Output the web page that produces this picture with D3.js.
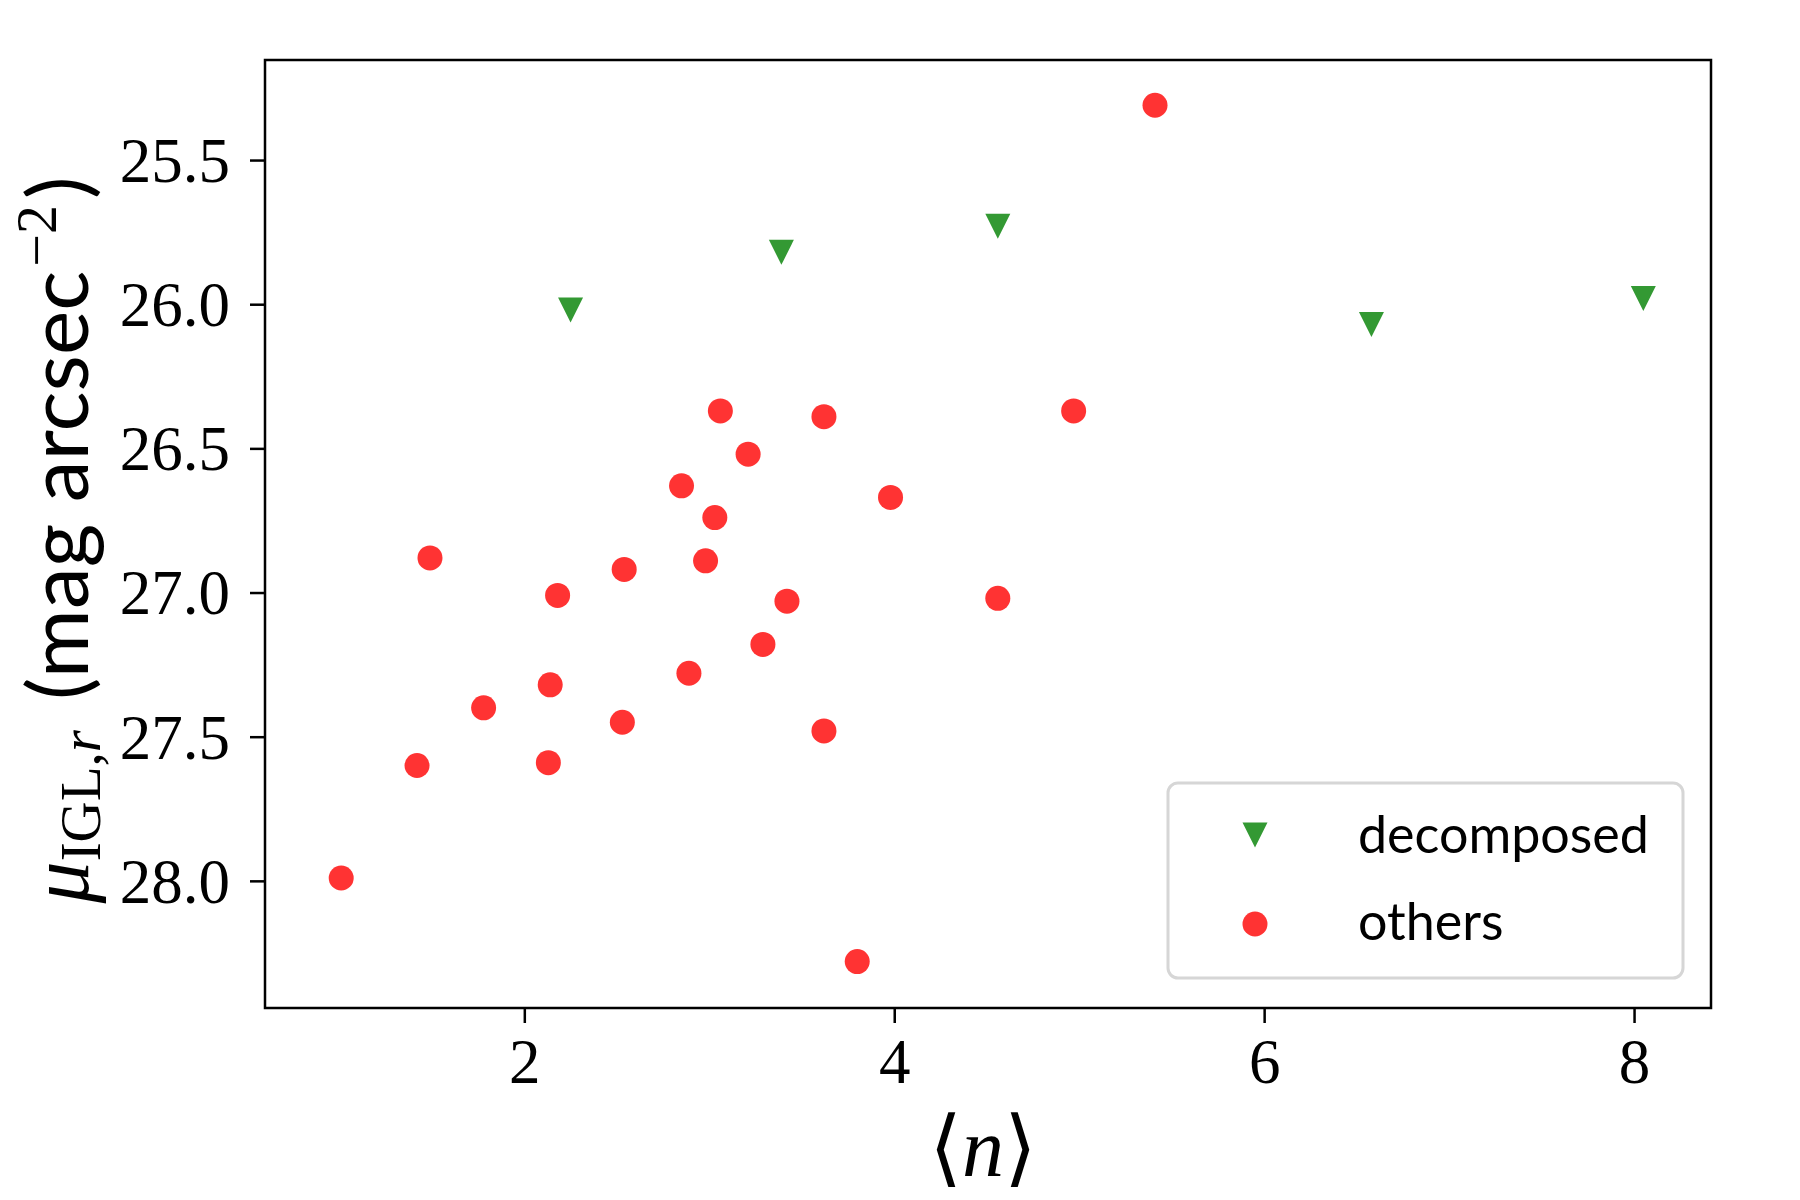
<!DOCTYPE html>
<html>
<meta charset="utf-8">
<style>
  body { margin: 0; background: #fff; }
  svg { width: 1800px; height: 1200px; display: block; }
  .axis path { display: none; }
  .axis line { stroke: #000; stroke-width: 2.5; }
  .axis text { font-family: "Liberation Serif", "DejaVu Serif", serif; font-size: 63px; fill: #000; }
</style>
<body>
  <svg></svg>
</body>

<script src="https://cdn.jsdelivr.net/npm/d3@7"></script>

<script>

  // decomposed clusters (green triangles)
  var decomposedN  = [2.25, 3.39, 4.56, 6.58, 8.05];
  var decomposedMu = [26.02, 25.82, 25.73, 26.07, 25.98];

  // other clusters (red dots)
  var othersN  = [5.41, 3.06, 3.62, 4.97, 3.21, 2.85, 3.98, 3.03, 1.49, 2.54, 2.98, 2.18,
                  3.42, 4.56, 3.29, 2.89, 2.14, 1.78, 2.53, 3.62, 1.42, 2.13, 1.01, 3.80];
  var othersMu = [25.31, 26.37, 26.39, 26.37, 26.52, 26.63, 26.67, 26.74, 26.88, 26.92, 26.89, 27.01,
                  27.03, 27.02, 27.18, 27.28, 27.32, 27.40, 27.45, 27.48, 27.60, 27.59, 27.99, 28.28];

  var xTicks = [2, 4, 6, 8];
  var yTicks = [25.5, 26.0, 26.5, 27.0, 27.5, 28.0];

  var legendLabels = ["decomposed", "others"];

  var margin = {top: 60, right: 89, bottom: 192, left: 265},
    width = 1800 - margin.left - margin.right,
    height = 1200 - margin.top - margin.bottom;

  var svg = d3.select("svg");
  var g = svg.append("g").attr("transform", "translate(" + margin.left + "," + margin.top + ")");

  var xScale = d3.scaleLinear().domain([0.598, 8.416]).range([0, width]);
  var yScale = d3.scaleLinear().domain([25.153, 28.441]).range([0, height]);

  var decomposed = decomposedN.map(function(n, i) { return [n, decomposedMu[i]]; });
  var others = othersN.map(function(n, i) { return [n, othersMu[i]]; });

  var red = "#ff3333", green = "#339933";
  var mSize = 25;

  function triDown(cx, cy, s) {
    var h = s / 2;
    return "M" + (cx - h) + "," + (cy - h) + "L" + (cx + h) + "," + (cy - h) + "L" + cx + "," + (cy + h) + "Z";
  }

  //AXES
  var xAxis = d3.axisBottom(xScale).tickValues(xTicks).tickSize(15).tickPadding(15)
    .tickFormat(d3.format("d"));
  var yAxis = d3.axisLeft(yScale).tickValues(yTicks).tickSize(15).tickPadding(20)
    .tickFormat(d3.format(".1f"));

  g.append("g").attr("class", "x axis")
    .attr("transform", "translate(0," + height + ")")
    .call(xAxis);

  g.append("g").attr("class", "y axis")
    .call(yAxis)
    .selectAll("text").attr("dy", "0.34em");

  //POINTS
  g.selectAll("circle.others").data(others).enter()
    .append("circle")
    .attr("class", "others")
    .attr("cx", function(d) { return xScale(d[0]); })
    .attr("cy", function(d) { return yScale(d[1]); })
    .attr("r", mSize / 2)
    .attr("fill", red);

  g.selectAll("path.decomposed").data(decomposed).enter()
    .append("path")
    .attr("class", "decomposed")
    .attr("d", function(d) { return triDown(xScale(d[0]), yScale(d[1]), mSize); })
    .attr("fill", green);

  //FRAME
  g.append("rect")
    .attr("width", width).attr("height", height)
    .attr("fill", "none").attr("stroke", "#000").attr("stroke-width", 2.5);

  //LEGEND
  var leg = g.append("g").attr("transform", "translate(" + (width - 543) + "," + (height - 225) + ")");
  leg.append("rect")
    .attr("width", 515).attr("height", 195)
    .attr("rx", 10).attr("ry", 10)
    .attr("fill", "#fff").attr("stroke", "#d6d6d6").attr("stroke-width", 3);

  leg.append("path").attr("d", triDown(87, 52, mSize)).attr("fill", green);
  leg.append("circle").attr("cx", 87).attr("cy", 141).attr("r", mSize / 2).attr("fill", red);

  leg.selectAll("text").data(legendLabels).enter()
    .append("text")
    .attr("x", 190)
    .attr("y", function(d, i) { return 70 + i * 87; })
    .style("font-family", "Lato, 'DejaVu Sans', sans-serif")
    .style("font-size", "52px")
    .text(function(d) { return d; });

  //AXIS LABELS
  var xl = svg.append("text")
    .attr("x", margin.left + width / 2 - 5)
    .attr("y", 1176)
    .attr("text-anchor", "middle")
    .style("font-size", "84px");
  xl.append("tspan").style("font-family", "'DejaVu Serif', serif").style("font-weight", "200").text("\u27E8");
  xl.append("tspan").style("font-family", "'Liberation Serif', serif").style("font-style", "italic").text("n");
  xl.append("tspan").style("font-family", "'DejaVu Serif', serif").style("font-weight", "200").text("\u27E9");

  var yl = svg.append("text")
    .attr("transform", "translate(88," + (margin.top + height / 2 + 6) + ") rotate(-90)")
    .attr("text-anchor", "middle")
    .style("font-family", "'Liberation Serif', serif");
  yl.append("tspan").style("font-size", "84px").style("font-style", "italic").text("\u03BC");
  yl.append("tspan").style("font-size", "57px").attr("dy", 12).text("IGL,");
  yl.append("tspan").style("font-size", "57px").style("font-style", "italic").text("r");
  yl.append("tspan").attr("dy", -12).attr("dx", 30)
    .style("font-family", "Lato, 'DejaVu Sans', sans-serif").style("font-size", "84px")
    .text("(mag arcsec");
  yl.append("tspan").attr("dy", -32).attr("dx", 4).style("font-size", "58px").text("\u22122");
  yl.append("tspan").attr("dy", 32).attr("dx", 6)
    .style("font-family", "Lato, 'DejaVu Sans', sans-serif").style("font-size", "84px").text(")");

</script>
</html>
